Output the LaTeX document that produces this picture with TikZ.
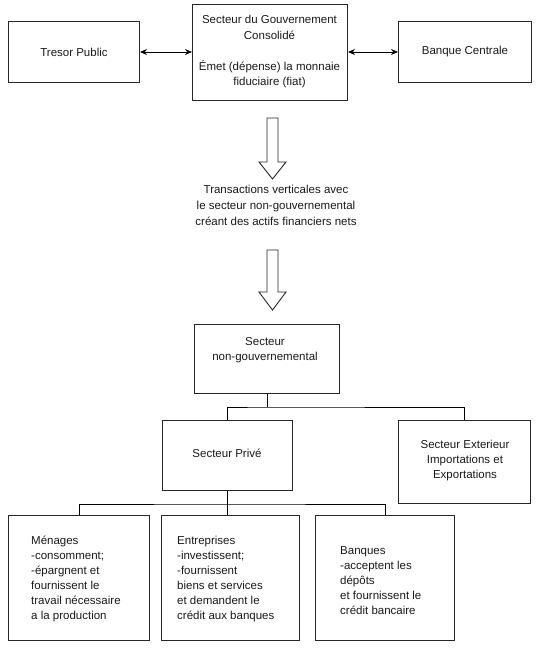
\documentclass[tikz,border=0pt]{standalone}
\usepackage{fontspec}
\setmainfont{Liberation Sans}
\usetikzlibrary{arrows.meta}
\begin{document}
\begin{tikzpicture}[x=1pt,y=-1pt,
  box/.style={draw=black!85,line width=1pt,inner sep=0pt,anchor=north west},
  txt/.style={inner sep=0pt,text=black!90,font=\fontsize{11.5pt}{15pt}\selectfont},
  conn/.style={line width=1pt,black},
  dbl/.style={line width=0.9pt,black,{Stealth[length=7pt,width=6pt]}-{Stealth[length=7pt,width=6pt]}},
  hollow/.style={draw=black!85,line width=0.9pt,fill=white}]
\useasboundingbox (0,0) rectangle (540,651);
% top row
\node[box,minimum width=131pt,minimum height=61pt] (tre) at (8,21) {};
\node[txt] (tretxt) at (tre.center) {Tresor Public};
\node[box,minimum width=155pt,minimum height=96pt] (gov) at (192,4) {};
\node[txt,align=center,font=\fontsize{11.5pt}{15.5pt}\selectfont] (govtxt) at (269.5,52)
  {Secteur du Gouvernement\\Consolidé\\[15.5pt]Émet (dépense) la monnaie\\fiduciaire (fiat)};
\node[box,minimum width=133pt,minimum height=61pt] (ban) at (398,21) {};
\node[txt] (bantxt) at (ban.center) {Banque Centrale};
\draw[dbl] (tre.east) -- (tre.east -| gov.west);
\draw[dbl] (gov.east |- ban.west) -- (ban.west);
% hollow arrows
\draw[hollow] (267,118) -- (278,118) -- (278,162) -- (286,162) -- (272.5,179) -- (259,162) -- (267,162) -- cycle;
\node[txt,align=center,font=\fontsize{11.5pt}{16pt}\selectfont] (trans) at (276,205)
  {Transactions verticales avec\\le secteur non-gouvernemental\\créant des actifs financiers nets};
\draw[hollow] (267,250) -- (278,250) -- (278,292) -- (286,292) -- (272.5,310) -- (259,292) -- (267,292) -- cycle;
% non-gouvernemental
\node[box,minimum width=145pt,minimum height=69pt] (ng) at (194,324) {};
\node[txt,align=center] (ngtxt) at (265,350) {Secteur\\non-gouvernemental};
\node[box,minimum width=130pt,minimum height=70pt] (priv) at (162,420) {};
\node[txt] (privtxt) at (227,453) {Secteur Privé};
\node[box,minimum width=132pt,minimum height=83pt] (ext) at (398,420) {};
\node[txt,align=center] (exttxt) at (465,461) {Secteur Exterieur\\Importations et\\Exportations};
\draw[conn] (ng.south) -- ++(0,13) coordinate (j1);
\draw[conn] (priv.north) |- (j1) -| (ext.north);
% bottom row
\node[box,minimum width=141pt,minimum height=125pt] (men) at (8,515) {};
\node[txt,align=left,anchor=north west] (mentxt) at (31,536)
  {Ménages\\-consomment;\\-épargnent et\\fournissent le\\travail nécessaire\\a la production};
\node[box,minimum width=138pt,minimum height=125pt] (ent) at (161,515) {};
\node[txt,align=left,anchor=north west] (enttxt) at (177,536)
  {Entreprises\\-investissent;\\-fournissent\\biens et services\\et demandent le\\crédit aux banques};
\node[box,minimum width=139pt,minimum height=125pt] (bq) at (315,515) {};
\node[txt,align=left,anchor=north west] (bqtxt) at (340,546)
  {Banques\\-acceptent les\\dépôts\\et fournissent le\\crédit bancaire};
\draw[conn] (priv.south) -- ++(0,13) coordinate (j2) -- (priv.south |- ent.north);
\draw[conn] (men.north) |- (j2) -| (bq.north);
\end{tikzpicture}
\end{document}
